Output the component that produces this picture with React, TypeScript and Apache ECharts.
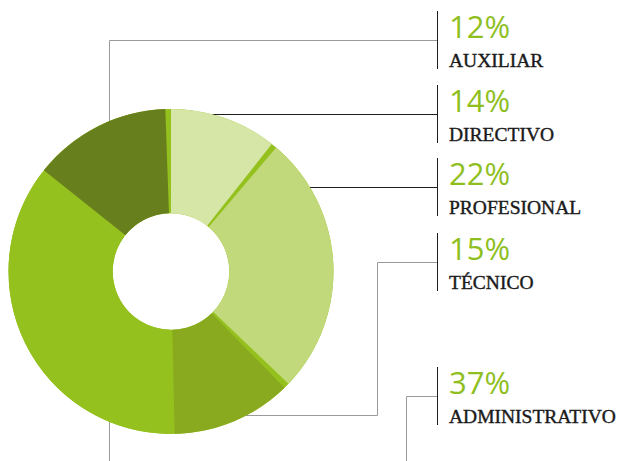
import React, { useEffect, useRef } from "react";
import * as echarts from "echarts";

const sliceNames = ["DIRECTIVO", "PROFESIONAL", "TÉCNICO", "ADMINISTRATIVO", "AUXILIAR"];
const sliceShares = [11.2, 26.5, 12.5, 35.5, 14.3];
const sliceColors = ["#d6e6a6", "#c1d97a", "#89aa1e", "#95c11f", "#687f1d"];

// Printed labels, top to bottom
const labelNames = ["AUXILIAR", "DIRECTIVO", "PROFESIONAL", "TÉCNICO", "ADMINISTRATIVO"];
const labelPercents = ["12%", "14%", "22%", "15%", "37%"];

const groupTops = [11, 85, 158, 233, 367];
const BAR_X = 437.5;

export default function App() {
  const ref = useRef<HTMLDivElement>(null);
  useEffect(() => {
    document.body.style.margin = "0";
    const chart = echarts.init(ref.current!, null, { renderer: "svg" });
    const grey = "#9a9a9a";
    const dark = "#1e1e1e";
    const graphics: any[] = [];
    // leader lines (behind donut)
    graphics.push({ type: "polyline", z: 0, shape: { points: [[BAR_X, 40.5], [109.5, 40.5], [109.5, 461]] }, style: { stroke: grey, lineWidth: 1, fill: null } });
    graphics.push({ type: "line", z: 0, shape: { x1: 190, y1: 114.5, x2: BAR_X, y2: 114.5 }, style: { stroke: dark, lineWidth: 1 } });
    graphics.push({ type: "line", z: 0, shape: { x1: 290, y1: 187.5, x2: BAR_X, y2: 187.5 }, style: { stroke: dark, lineWidth: 1 } });
    graphics.push({ type: "polyline", z: 0, shape: { points: [[BAR_X, 262.5], [377.5, 262.5], [377.5, 415.5], [220, 415.5]] }, style: { stroke: grey, lineWidth: 1, fill: null } });
    graphics.push({ type: "polyline", z: 0, shape: { points: [[BAR_X, 396.5], [406.5, 396.5], [406.5, 461]] }, style: { stroke: grey, lineWidth: 1, fill: null } });
    labelNames.forEach((name, i) => {
      const top = groupTops[i];
      graphics.push({ type: "line", z: 0, shape: { x1: BAR_X, y1: top, x2: BAR_X, y2: top + 58 }, style: { stroke: dark, lineWidth: 1 } });
      graphics.push({
        type: "text", z: 3, x: 449, y: top + 30,
        style: { text: labelPercents[i], fill: "#8fbf1f", font: "400 31px 'Open Sans', 'Noto Sans', sans-serif", verticalAlign: "bottom", align: "left" },
      });
      graphics.push({
        type: "text", z: 3, x: 449, y: top + 59.5,
        style: { text: name, fill: "#1a1a1a", stroke: "#1a1a1a", lineWidth: 0.4, font: "19.5px 'Liberation Serif', serif", verticalAlign: "bottom", align: "left" },
      });
    });

    chart.setOption({
      animation: false,
      graphic: { elements: graphics },
      series: [
        {
          type: "pie",
          z: 1,
          silent: true,
          center: [171, 271.5],
          radius: [58.3, 162.5],
          label: { show: false },
          labelLine: { show: false },
          data: [{ value: 1, itemStyle: { color: "#95c11f" } }],
        },
        {
          type: "pie",
          z: 2,
          center: [171, 271.5],
          radius: [58.3, 162.5],
          startAngle: 91,
          clockwise: true,
          padAngle: 2,
          label: { show: false },
          labelLine: { show: false },
          emphasis: { disabled: true },
          data: sliceNames.map((n, i) => ({ name: n, value: sliceShares[i], itemStyle: { color: sliceColors[i] } })),
        },
      ],
    });
    return () => chart.dispose();
  }, []);
  return <div ref={ref} style={{ position: "absolute", left: 0, top: 0, width: 624, height: 461 }} />;
}
